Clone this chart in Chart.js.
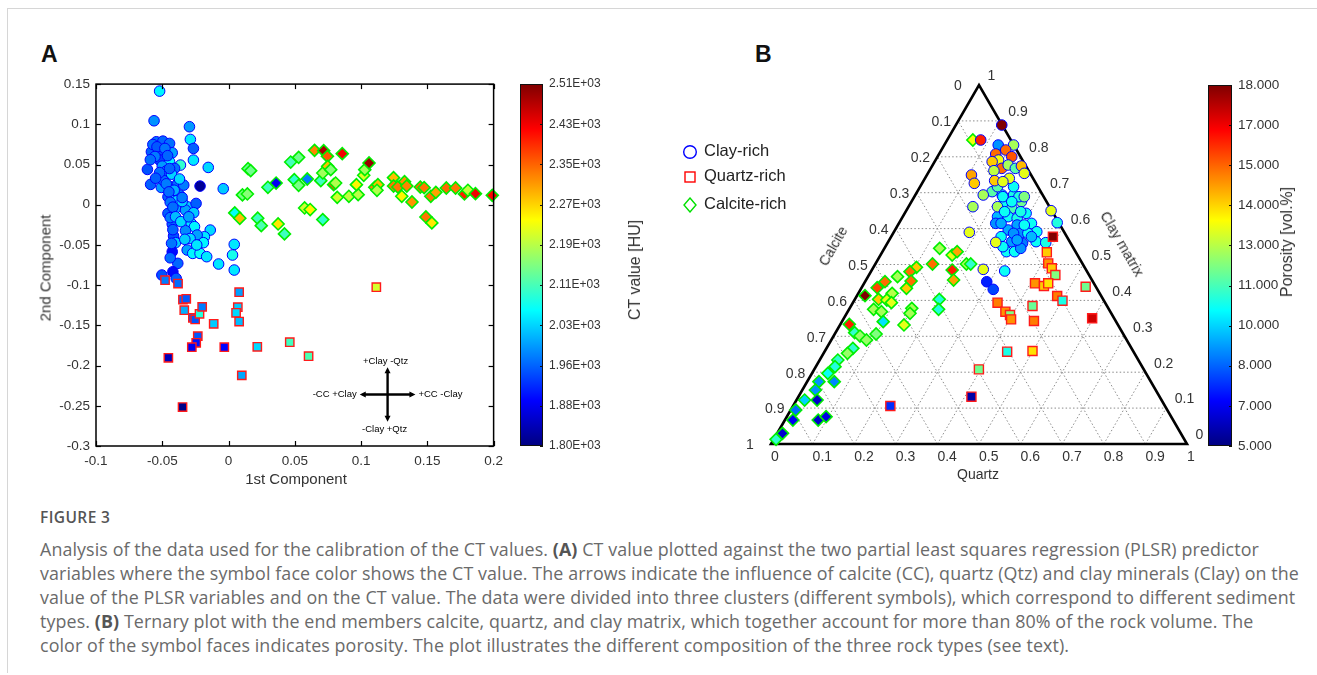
<!DOCTYPE html>
<html><head><meta charset="utf-8">
<script src="https://cdn.jsdelivr.net/npm/chart.js@4.4.0/dist/chart.umd.min.js"></script>
<style>
html,body{margin:0;padding:0;background:#fff;}
body{width:1317px;height:675px;overflow:hidden;position:relative;font-family:"Liberation Sans",Arial,sans-serif;}
.frame{position:absolute;left:7px;top:8px;width:1400px;height:664px;border-top:1px solid #d6d6d6;border-left:1px solid #d6d6d6;}
canvas{position:absolute;}
.t{position:absolute;white-space:nowrap;line-height:1;color:#333;}
.c{transform:translate(-50%,-50%);}
.cap{position:absolute;left:40px;white-space:nowrap;font-family:"Open Sans",sans-serif;font-size:17.85px;line-height:24px;color:#6a6a6a;letter-spacing:0.1px;}
.cap b{color:#555;font-weight:700;}
.leg{position:absolute;left:682px;font-size:16.5px;color:#222;line-height:1;white-space:nowrap;}
.leg svg{vertical-align:middle;margin-right:6px;}
</style></head>
<body>
<div class="frame"></div>
<div class="t" style="left:41px;top:43px;font-size:23px;font-weight:700;color:#111">A</div>
<div class="t" style="left:755px;top:43px;font-size:23px;font-weight:700;color:#111">B</div>

<canvas id="cA" width="480" height="420" style="left:30px;top:70px;width:480px;height:420px"></canvas>
<canvas id="cbA" width="140" height="420" style="left:510px;top:70px;width:140px;height:420px"></canvas>
<canvas id="cB" width="550" height="420" style="left:660px;top:60px;width:550px;height:420px"></canvas>
<canvas id="cbB" width="119" height="420" style="left:1198px;top:60px;width:119px;height:420px"></canvas>

<div class="t c" style="left:296px;top:478px;font-size:15px">1st Component</div>
<div class="t" style="left:45px;top:268px;font-size:15px;transform:translate(-50%,-50%) rotate(-90deg)">2nd Component</div>
<div class="t" style="left:635px;top:270px;font-size:16px;transform:translate(-50%,-50%) rotate(-90deg)">CT value [HU]</div>
<div class="t" style="left:1287px;top:242px;font-size:16px;transform:translate(-50%,-50%) rotate(-90deg)">Porosity [vol.%]</div>
<div class="t c" style="left:978px;top:474px;font-size:14px">Quartz</div>
<div class="t" style="left:833px;top:246px;font-size:14px;transform:translate(-50%,-50%) rotate(-60deg)">Calcite</div>
<div class="t" style="left:1122px;top:244px;font-size:14.5px;transform:translate(-50%,-50%) rotate(60deg)">Clay matrix</div>

<div class="leg" style="top:142px"><svg width="16" height="16"><circle cx="8" cy="8" r="6.3" fill="none" stroke="#0000ff" stroke-width="1.4"/></svg>Clay-rich</div>
<div class="leg" style="top:167px"><svg width="16" height="16"><rect x="3" y="3" width="10" height="10" fill="none" stroke="#ff0000" stroke-width="1.4"/></svg>Quartz-rich</div>
<div class="leg" style="top:195px"><svg width="16" height="16"><path d="M8 1 L14 8 L8 15 L2 8 Z" fill="none" stroke="#00e000" stroke-width="1.4"/></svg>Calcite-rich</div>

<div class="cap" style="top:505px;font-size:15.5px;color:#555;font-weight:600;letter-spacing:0.4px">FIGURE 3</div>
<div class="cap" style="top:537px">Analysis of the data used for the calibration of the CT values. <b>(A)</b> CT value plotted against the two partial least squares regression (PLSR) predictor</div>
<div class="cap" style="top:561px">variables where the symbol face color shows the CT value. The arrows indicate the influence of calcite (CC), quartz (Qtz) and clay minerals (Clay) on the</div>
<div class="cap" style="top:585px">value of the PLSR variables and on the CT value. The data were divided into three clusters (different symbols), which correspond to different sediment</div>
<div class="cap" style="top:609px">types. <b>(B)</b> Ternary plot with the end members calcite, quartz, and clay matrix, which together account for more than 80% of the rock volume. The</div>
<div class="cap" style="top:633px">color of the symbol faces indicates porosity. The plot illustrates the different composition of the three rock types (see text).</div>

<script>
// ---------------- DATA ----------------
// Panel A: [1st component, 2nd component, CT value HU]
const clayRichA = [
[-0.0520,0.1413,2060],[-0.0562,0.1044,1990],[-0.0295,0.0970,1995],[-0.0288,0.0812,2050],[-0.0265,0.0700,1955],
[-0.0265,0.0555,2050],[-0.0153,0.0464,2040],[-0.0215,0.0232,1815],[-0.0040,0.0199,2030],[-0.0545,0.0783,1965],
[-0.0495,0.0791,1960],[-0.0445,0.0762,1965],[-0.0582,0.0659,1955],[-0.0507,0.0680,1940],[-0.0425,0.0646,2000],
[-0.0520,0.0555,1935],[-0.0445,0.0534,2060],[-0.0363,0.0493,2100],[-0.0612,0.0439,1945],[-0.0407,0.0452,1965],
[-0.0588,0.0253,1955],[-0.0475,0.0369,1995],[-0.0507,0.0215,1995],[-0.0440,0.0224,2050],[-0.0383,0.0265,1965],
[-0.0338,0.0244,1975],[-0.0457,0.0099,1955],[-0.0425,0.0099,2040],[-0.0370,0.0120,1975],[-0.0312,-0.0025,2030],
[-0.0245,0.0016,1955],[-0.0400,-0.0045,2010],[-0.0457,-0.0108,1955],[-0.0325,-0.0066,2000],[-0.0263,-0.0099,2030],
[-0.0425,-0.0240,1960],[-0.0282,-0.0232,2050],[-0.0257,-0.0273,2060],[-0.0325,-0.0323,1985],[-0.0415,-0.0389,1945],
[-0.0138,-0.0315,2040],[-0.0182,-0.0398,2050],[-0.0237,-0.0377,2000],[-0.0190,-0.0472,2060],[-0.0400,-0.0472,2030],
[-0.0312,-0.0563,2000],[-0.0425,-0.0584,1895],[-0.0270,-0.0605,2060],[-0.0215,-0.0605,2070],[-0.0165,-0.0646,2050],
[-0.0383,-0.0729,1960],[-0.0075,-0.0737,2050],[0.0043,-0.0493,2050],[0.0030,-0.0625,2080],[0.0043,-0.0812,2050],
[-0.0503,-0.0874,1945],[-0.0420,-0.0833,1895],[-0.0395,-0.0916,1955],[-0.0571,0.0749,1965],[-0.0540,0.0720,1950],
[-0.0480,0.0700,1970],[-0.0460,0.0610,1960],[-0.0555,0.0600,1975],[-0.0590,0.0560,1965],[-0.0500,0.0480,1995],
[-0.0470,0.0420,1970],[-0.0430,0.0380,2035],[-0.0490,0.0300,1965],[-0.0470,0.0260,1975],[-0.0410,0.0180,2010],
[-0.0450,0.0160,1965],[-0.0390,0.0050,2040],[-0.0440,0.0030,1970],[-0.0420,-0.0030,1965],[-0.0350,0.0040,2030],
[-0.0440,-0.0160,1975],[-0.0400,-0.0150,2020],[-0.0420,-0.0310,1960],[-0.0360,-0.0210,2040],[-0.0300,-0.0150,2000],
[-0.0430,-0.0480,1970],[-0.0290,-0.0420,2040],[-0.0330,-0.0430,2030],[-0.0240,-0.0500,2050],[-0.0440,-0.0660,1965],
[-0.0520,0.0400,1965],[-0.0550,0.0330,1955],[-0.0370,0.0320,2040],[-0.0350,0.0090,1975],[-0.0445,0.0450,1960]
];
const quartzRichA = [
[-0.0479,-0.0938,1975],[-0.0381,-0.0980,1965],[-0.0344,-0.1179,1960],[-0.0319,-0.1170,1950],[-0.0334,-0.1311,2010],
[-0.0269,-0.1406,1950],[-0.0252,-0.1427,1945],[-0.0219,-0.1357,2090],[-0.0199,-0.1270,1975],[-0.0232,-0.1634,1950],
[-0.0244,-0.1717,1900],[-0.0277,-0.1771,1880],[-0.0112,-0.1481,2030],[-0.0032,-0.1771,1890],[-0.0454,-0.1903,1840],
[-0.0347,-0.2516,1805],[0.0080,-0.1088,2000],[0.0070,-0.1274,2030],[0.0057,-0.1344,2040],[0.0080,-0.1452,2020],
[0.0100,-0.2122,2005],[0.0217,-0.1767,2040],[0.0462,-0.1709,2110],[0.0604,-0.1883,2120],[0.1115,-0.1025,2215]
];
const calciteRichA = [
[0.0047,-0.0102,2070],[0.0085,-0.0168,2290],[0.0105,0.0122,2150],[0.0142,0.0134,2160],[0.0147,0.0448,2140],
[0.0167,0.0424,2145],[0.0220,-0.0168,2110],[0.0247,-0.0260,2120],[0.0297,0.0217,2110],[0.0359,0.0270,1880],
[0.0374,-0.0239,2260],[0.0422,-0.0363,2110],[0.0469,0.0531,2115],[0.0529,0.0589,2145],[0.0496,0.0312,2100],
[0.0529,0.0241,2150],[0.0594,0.0320,1975],[0.0574,-0.0040,2210],[0.0616,-0.0060,2250],[0.0649,0.0676,2330],
[0.0718,0.0672,2480],[0.0746,0.0602,2360],[0.0696,0.0299,2110],[0.0711,0.0395,2180],[0.0748,0.0477,2290],
[0.0771,0.0436,2160],[0.0711,-0.0185,2100],[0.0793,0.0250,2370],[0.0808,0.0270,2190],[0.0820,0.0092,2210],
[0.0858,0.0635,2430],[0.0908,0.0105,2200],[0.0978,0.0125,2195],[0.0965,0.0250,2250],[0.1020,0.0366,2220],
[0.1028,0.0436,2180],[0.1060,0.0519,2490],[0.1103,0.0217,2330],[0.1127,0.0250,2290],[0.1120,0.0180,2190],
[0.1245,0.0337,2290],[0.1245,0.0233,2340],[0.1278,0.0220,2340],[0.1328,0.0287,2320],[0.1345,0.0233,2330],
[0.1307,0.0105,2250],[0.1384,0.0034,2320],[0.1447,0.0220,2350],[0.1476,0.0212,2340],[0.1489,-0.0152,2340],
[0.1534,-0.0226,2260],[0.1526,0.0105,2340],[0.1564,0.0154,2310],[0.1643,0.0208,2350],[0.1713,0.0208,2340],
[0.1780,0.0134,2400],[0.1806,0.0180,2200],[0.1863,0.0138,2430],[0.1990,0.0117,2420]
];
const xTickValsA = [-0.1,-0.05,0,0.05,0.1,0.15,0.2];
const xTickLabelsA = ['-0.1','-0.05','0','0.05','0.1','0.15','0.2'];
const yTickValsA = [-0.3,-0.25,-0.2,-0.15,-0.1,-0.05,0,0.05,0.1,0.15];
const yTickLabelsA = ['-0.3','-0.25','-0.2','-0.15','-0.1','-0.05','0','0.05','0.1','0.15'];
const ctRange = [1800,2510];
const ctTickLabels = ['1.80E+03','1.88E+03','1.96E+03','2.03E+03','2.11E+03','2.19E+03','2.27E+03','2.35E+03','2.43E+03','2.51E+03'];
const crossLabels = ['+Clay -Qtz','-Clay +Qtz','-CC +Clay','+CC -Clay'];

// Panel B: [quartz fraction, clay-matrix fraction, porosity vol.%]
const clayRichB = [
[0.2089,0.6936,10],[0.2363,0.6936,10.2],[0.2645,0.6750,11.3],[0.2245,0.6657,10],[0.2506,0.6564,10.8],
[0.2920,0.6425,10],[0.2279,0.6332,9],[0.2536,0.6332,10],[0.2774,0.6286,10.2],[0.2329,0.6146,8.5],
[0.2867,0.6100,8.7],[0.3188,0.6146,10],[0.3432,0.5914,10],[0.3069,0.5868,8.5],[0.2722,0.5961,8.8],
[0.2644,0.5775,10],[0.2970,0.5636,8.6],[0.3251,0.5590,8.2],[0.3554,0.5636,10],[0.3800,0.5608,10.2],
[0.2981,0.5357,10],[0.3178,0.5357,10],[0.3278,0.5450,8.5],[0.3241,0.5868,10],[0.2140,0.6610,12],
[0.2247,0.7168,10],[0.2129,0.6889,10],[0.2515,0.6889,10.3],[0.2413,0.6750,10],[0.2644,0.6889,11.5],
[0.2381,0.6471,10],[0.2767,0.6471,10.2],[0.2458,0.6146,8.8],[0.3039,0.6100,10],[0.2897,0.5868,8.5],
[0.3374,0.5775,9],[0.2826,0.5496,10],[0.3076,0.5682,8.7],[0.1802,0.7029,11],[0.1861,0.7168,11],
[0.1105,0.8885,18],[0.0807,0.8468,16],[0.1667,0.8328,12],[0.1298,0.8328,8.5],[0.1548,0.8189,15],
[0.1363,0.8078,15],[0.1786,0.8003,15.3],[0.1516,0.7910,13],[0.1384,0.7864,13.8],[0.1709,0.7678,15],
[0.1552,0.7613,12.3],[0.1816,0.7771,12],[0.2035,0.7678,11],[0.2148,0.7743,14],[0.2319,0.7539,12.8],
[0.2028,0.7400,12.8],[0.1709,0.7335,13.8],[0.1921,0.7307,12.8],[0.1072,0.7493,14.3],[0.1257,0.7261,13.8],
[0.1634,0.6936,12],[0.1548,0.6610,12],[0.1819,0.5896,12.8],[0.2594,0.5617,12.8],[0.2670,0.4865,12.8],
[0.3208,0.4819,10],[0.2926,0.4520,7],[0.3188,0.4308,7.5],[0.3483,0.6499,12.8],[0.3797,0.6165,10.3]
];
const quartzRichB = [
[0.3889,0.5775,18],[0.3961,0.5339,13.8],[0.4148,0.5032,14.5],[0.4304,0.4893,13.8],[0.4482,0.4707,11.5],
[0.4108,0.4475,14.5],[0.4361,0.4400,13.8],[0.4426,0.4475,13.5],[0.5374,0.4380,11.3],[0.4818,0.4122,14.8],
[0.5011,0.3992,10.2],[0.3477,0.3937,14.8],[0.3791,0.3686,14.5],[0.3949,0.3593,11.5],[0.4035,0.3472,14.5],
[0.4364,0.3844,11.2],[0.4608,0.3426,14.8],[0.5970,0.3500,17],[0.4391,0.2572,10.2],[0.4991,0.2590,13.5],
[0.3958,0.2079,11.3],[0.4159,0.1318,5.5],[0.2340,0.1058,7.2]
];
const calciteRichB = [
[0.0618,0.8468,13],[0.1329,0.5450,12],[0.1723,0.5264,12.8],[0.1796,0.5357,14.3],[0.2191,0.5014,12],
[0.2294,0.5014,10.5],[0.1932,0.4846,16],[0.2105,0.4568,14.3],[0.1375,0.5014,15],[0.1036,0.4921,13.8],
[0.0942,0.4800,15],[0.1097,0.4540,15],[0.0711,0.4661,12],[0.0480,0.4520,15],[0.0375,0.4354,15.5],
[0.1088,0.4336,13.8],[0.0814,0.4196,12.2],[0.0571,0.4029,13.8],[0.0779,0.4011,12.8],[0.0927,0.3937,12.8],
[0.0194,0.4132,18],[0.0591,0.3751,12],[0.0812,0.3686,12],[0.1495,0.3779,12],[0.1522,0.3639,12],
[0.2031,0.4029,10.3],[0.2153,0.3751,10.3],[0.0994,0.3407,9.5],[0.1539,0.3315,12.8],[0.0994,0.3064,11.5],
[0.0216,0.3333,16],[0.0461,0.3101,10.5],[0.0636,0.3008,11.8],[0.0846,0.2897,11.8],[0.0636,0.2665,10.5],
[0.0576,0.2525,11.8],[0.0437,0.2339,10.5],[0.0462,0.2154,10.3],[0.0383,0.1968,10],[0.0284,0.1736,8.5],
[0.0653,0.1736,8.3],[0.0315,0.1504,8.5],[0.0196,0.1225,9.3],[0.0496,0.1225,6],[0.0121,0.0947,8],
[0.0192,0.0668,6.5],[0.0801,0.0668,6],[0.0944,0.0761,6.3],[0.0129,0.0296,6],[0.0057,0.0129,10.5]
];
const ternaryGridVals = [0.1,0.2,0.3,0.4,0.5,0.6,0.7,0.8,0.9];
const ternaryTickVals = [0,0.1,0.2,0.3,0.4,0.5,0.6,0.7,0.8,0.9,1];
const ternaryTickLabels = ['0','0.1','0.2','0.3','0.4','0.5','0.6','0.7','0.8','0.9','1'];
const porRange = [5,18];
const porTickLabels = ['5.000','7.000','8.000','10.000','11.000','13.000','14.000','15.000','17.000','18.000'];

// ---------------- HELPERS ----------------
Chart.defaults.font.family = '"Liberation Sans", Arial, sans-serif';
Chart.defaults.color = '#333';
const cl01 = v => Math.max(0, Math.min(1, v));
function jet(t){
  t = cl01(t);
  const r = cl01(1.5-Math.abs(4*t-3)), g = cl01(1.5-Math.abs(4*t-2)), b = cl01(1.5-Math.abs(4*t-1));
  return `rgb(${Math.round(r*255)},${Math.round(g*255)},${Math.round(b*255)})`;
}
const norm = (v, r) => (v - r[0]) / (r[1] - r[0]);
const evenTicks = (r, n) => Array.from({length:n}, (_, i) => r[0] + i*(r[1]-r[0])/(n-1));

function line(ctx, a, b){ ctx.beginPath(); ctx.moveTo(a[0], a[1]); ctx.lineTo(b[0], b[1]); ctx.stroke(); }

// ---------------- PANEL A ----------------
const boxPlugin = {
  id:'boxA',
  afterDatasetsDraw(chart){
    const {ctx, chartArea:a, scales:{x, y}} = chart;
    ctx.save();
    ctx.strokeStyle = '#000'; ctx.lineWidth = 1.2;
    x.ticks.forEach(t => { const p = Math.round(x.getPixelForValue(t.value))+0.5;
      line(ctx,[p,a.bottom],[p,a.bottom-5]); line(ctx,[p,a.top],[p,a.top+5]); });
    y.ticks.forEach(t => { const p = Math.round(y.getPixelForValue(t.value))+0.5;
      line(ctx,[a.left,p],[a.left+5,p]); line(ctx,[a.right,p],[a.right-5,p]); });
    ctx.lineWidth = 1.5;
    ctx.strokeRect(a.left, a.top, a.right-a.left, a.bottom-a.top);
    ctx.restore();
  }
};
const crossCenter = [0.12, -0.236];
const crossHalf = [0.021, 0.034];
const crossPlugin = {
  id:'crossA',
  afterDatasetsDraw(chart){
    const {ctx, scales:{x, y}} = chart;
    const cx = x.getPixelForValue(crossCenter[0]), cy = y.getPixelForValue(crossCenter[1]);
    const x0 = x.getPixelForValue(crossCenter[0]-crossHalf[0]), x1 = x.getPixelForValue(crossCenter[0]+crossHalf[0]);
    const y0 = y.getPixelForValue(crossCenter[1]+crossHalf[1]), y1 = y.getPixelForValue(crossCenter[1]-crossHalf[1]);
    ctx.save();
    ctx.strokeStyle = '#000'; ctx.fillStyle = '#000'; ctx.lineWidth = 2.4;
    line(ctx,[x0+3,cy],[x1-3,cy]); line(ctx,[cx,y0+3],[cx,y1-3]);
    const head = (px,py,dx,dy) => { ctx.beginPath(); ctx.moveTo(px,py);
      ctx.lineTo(px-dx*6-dy*3, py-dy*6-dx*3); ctx.lineTo(px-dx*6+dy*3, py-dy*6+dx*3); ctx.closePath(); ctx.fill(); };
    head(x1,cy,1,0); head(x0,cy,-1,0); head(cx,y0,0,-1); head(cx,y1,0,1);
    ctx.font = '9.5px "Liberation Sans", Arial, sans-serif';
    ctx.textBaseline = 'middle';
    ctx.textAlign = 'center';
    ctx.fillText(crossLabels[0], cx-2, y0-6);
    ctx.fillText(crossLabels[1], cx-3, y1+8);
    ctx.textAlign = 'right'; ctx.fillText(crossLabels[2], x0-3, cy);
    ctx.textAlign = 'left'; ctx.fillText(crossLabels[3], x1+3, cy);
    ctx.restore();
  }
};
function dsA(arr, style, radius, border, bw){
  return { data: arr.map(p => ({x:p[0], y:p[1]})), pointStyle: style, pointRadius: radius,
    pointBackgroundColor: arr.map(p => jet(norm(p[2], ctRange))), pointBorderColor: border,
    pointBorderWidth: bw, showLine:false, clip:false };
}
new Chart(document.getElementById('cA'), {
  type:'scatter',
  data:{ datasets:[
    dsA(calciteRichA, 'rectRot', 6, '#00ee00', 1.6),
    dsA(quartzRichA, 'rect', 5.9, '#ff1a1a', 1.4),
    dsA(clayRichA, 'circle', 5.3, '#0000ff', 1)
  ]},
  options:{
    responsive:false, animation:false, devicePixelRatio:1, events:[],
    layout:{padding:{top:14, right:13, left:0, bottom:0}},
    plugins:{legend:{display:false}, tooltip:{enabled:false}},
    scales:{
      x:{type:'linear', min:-0.1, max:0.2,
        afterBuildTicks: s => { s.ticks = xTickValsA.map(v => ({value:v})); },
        afterFit: s => { s.height = 44; },
        ticks:{ autoSkip:false, maxRotation:0, padding:7, font:{size:13.5}, color:'#333',
          callback:(v,i) => xTickLabelsA[i] },
        grid:{display:false, drawTicks:false}, border:{display:false}},
      y:{type:'linear', min:-0.3, max:0.15,
        afterBuildTicks: s => { s.ticks = yTickValsA.map(v => ({value:v})); },
        afterFit: s => { s.width = 66; },
        ticks:{ autoSkip:false, padding:6, font:{size:13.5}, color:'#333',
          callback:(v,i) => yTickLabelsA[i] },
        grid:{display:false, drawTicks:false}, border:{display:false}}
    }
  },
  plugins:[boxPlugin, crossPlugin]
});

// ---------------- COLORBARS ----------------
function colorbarPlugin(){
  return { id:'cbar', beforeDatasetsDraw(chart){
    const {ctx, chartArea:a, scales:{y}} = chart;
    const g = ctx.createLinearGradient(0, a.bottom, 0, a.top);
    for (let i = 0; i <= 64; i++) g.addColorStop(i/64, jet(i/64));
    ctx.save();
    ctx.fillStyle = g; ctx.fillRect(a.left, a.top, a.right-a.left, a.bottom-a.top);
    ctx.strokeStyle = '#111'; ctx.lineWidth = 1;
    ctx.strokeRect(a.left+0.5, a.top+0.5, a.right-a.left-1, a.bottom-a.top-1);
    y.ticks.forEach(t => { const p = Math.round(y.getPixelForValue(t.value))+0.5;
      line(ctx,[a.right-3,p],[a.right,p]); });
    ctx.restore();
  }};
}
function makeColorbar(id, range, labels, padTop, padBottom, axisW, fontSize, pad){
  const vals = evenTicks(range, labels.length);
  return new Chart(document.getElementById(id), {
    type:'scatter', data:{datasets:[{data:[]}]},
    options:{
      responsive:false, animation:false, devicePixelRatio:1, events:[],
      layout:{padding:{top:padTop, bottom:padBottom, left:10, right:0}},
      plugins:{legend:{display:false}, tooltip:{enabled:false}},
      scales:{
        x:{display:false, min:0, max:1},
        y:{position:'right', min:range[0], max:range[1],
          afterBuildTicks: s => { s.ticks = vals.map(v => ({value:v})); },
          afterFit: s => { s.width = axisW; },
          ticks:{autoSkip:false, padding:pad, font:{size:fontSize}, color:'#333',
            callback:(v,i) => labels[i]},
          grid:{display:false, drawTicks:false}, border:{display:false}}
      }
    },
    plugins:[colorbarPlugin()]
  });
}
makeColorbar('cbA', ctRange, ctTickLabels, 14, 44, 107, 12, 6);
makeColorbar('cbB', porRange, porTickLabels, 25, 34, 85, 13.5, 6);

// ---------------- PANEL B (ternary) ----------------
const ternaryPlugin = {
  id:'ternary',
  beforeDatasetsDraw(chart){
    const {ctx, scales:{x, y}} = chart;
    const P = (q, c) => [x.getPixelForValue(q + c/2), y.getPixelForValue(c)];
    ctx.save();
    ctx.strokeStyle = '#8c8c8c'; ctx.lineWidth = 1; ctx.setLineDash([1.5, 2.2]);
    ternaryGridVals.forEach(v => {
      line(ctx, P(0, v), P(1-v, v));
      line(ctx, P(v, 0), P(v, 1-v));
      line(ctx, P(1-v, 0), P(0, 1-v));
    });
    ctx.setLineDash([]);
    ctx.strokeStyle = '#000'; ctx.lineWidth = 2.6; ctx.lineJoin = 'miter';
    const A = P(0,0), B = P(1,0), C = P(0,1);
    ctx.beginPath(); ctx.moveTo(A[0],A[1]); ctx.lineTo(B[0],B[1]); ctx.lineTo(C[0],C[1]); ctx.closePath(); ctx.stroke();
    ctx.fillStyle = '#333';
    ctx.font = '14px "Liberation Sans", Arial, sans-serif';
    ctx.textBaseline = 'middle';
    ternaryTickVals.forEach((v, i) => {
      const lab = ternaryTickLabels[i];
      let p = P(v, 0);
      ctx.textAlign = 'left'; ctx.fillText(lab, p[0], p[1] + 13);
      p = P(0, 1 - v);
      ctx.textAlign = 'center'; ctx.fillText(lab, p[0] - (lab.length > 1 ? 17 : 21), p[1] + 1.5);
      p = P(1 - v, v);
      ctx.textAlign = 'left'; ctx.fillText(lab, p[0] + 8.5, p[1] - 8.5);
    });
    ctx.restore();
  }
};
function dsB(arr, style, radius, border, bw){
  return { data: arr.map(p => ({x: p[0] + p[1]/2, y: p[1]})), pointStyle: style, pointRadius: radius,
    pointBackgroundColor: arr.map(p => jet(norm(p[2], porRange))), pointBorderColor: border,
    pointBorderWidth: bw, showLine:false, clip:false };
}
new Chart(document.getElementById('cB'), {
  type:'scatter',
  data:{ datasets:[
    dsB(quartzRichB, 'rect', 6.4, '#ff1a1a', 1.4),
    dsB(clayRichB, 'circle', 5.3, '#0000ff', 1),
    dsB(calciteRichB, 'rectRot', 6, '#00ee00', 1.6)
  ]},
  options:{
    responsive:false, animation:false, devicePixelRatio:1, events:[],
    layout:{padding:{top:25, bottom:36, left:111, right:23}},
    plugins:{legend:{display:false}, tooltip:{enabled:false}},
    scales:{ x:{display:false, min:0, max:1}, y:{display:false, min:0, max:1} }
  },
  plugins:[ternaryPlugin]
});
</script>
</body></html>
